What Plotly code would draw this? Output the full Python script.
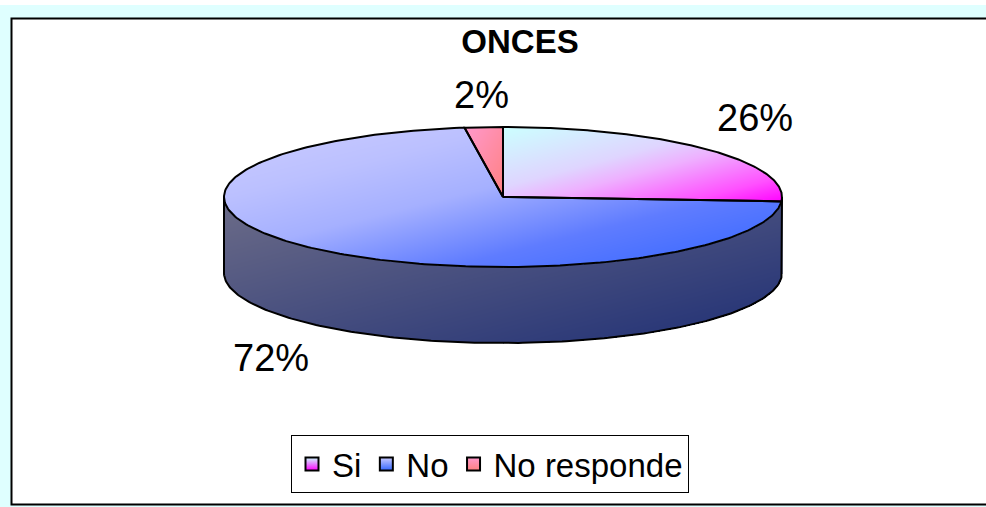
import numpy as np
import plotly.graph_objects as go

# --- data ---
title = "ONCES"
categories = ["Si", "No", "No responde"]
values = [26.0, 71.8, 2.2]
value_labels = ["26%", "72%", "2%"]

# --- drawing geometry of the tilted disc (pixel space of the page) ---
W, H = 986, 507
CX, CY, RX, RY, DEPTH = 503, 197, 279, 70, 76
label_pos = [(755, 118), (271, 358), (481, 95)]
scales = [
    [[0, "#CCFFFF"], [.40, "#DFD5FF"], [.55, "#EEB0FF"], [.83, "#FF50FF"], [1, "#FF00FF"]],
    [[0, "#CCCCFF"], [.25, "#BBC0FF"], [.45, "#A5B0FF"], [.70, "#5F7CFF"], [.85, "#4870FF"], [1, "#3366FF"]],
    [[0, "#FF99CC"], [1, "#FF8080"]],
]
side_scale = [[0, "#6C6C88"], [1, "#1F2F75"]]
swatches = [("#CCFFFF", "#FF00FF"), ("#CCCCFF", "#3366FF"), ("#FF99CC", "#FF8080")]


def rim(a):
    return CX + RX * np.sin(a), CY - RY * np.cos(a)


xs = np.arange(CX - RX, CX + RX + 1.0)
ys = np.arange(CY - RY, CY + DEPTH + RY + 1.0)
gx, gy = np.meshgrid(xs, ys)
ang = np.mod(np.arctan2((gx - CX) / RX, -(gy - CY) / RY), 2 * np.pi)
inside = ((gx - CX) / RX) ** 2 + ((gy - CY) / RY) ** 2 <= 1

fig = go.Figure()


def gradient_layer(mask, x0, x1, y0, y1, scale):
    t = ((gx - x0) / (x1 - x0) + (gy - y0) / (y1 - y0)) / 2
    z = np.where(mask, np.clip(t, 0, 1), np.nan)
    fig.add_trace(go.Heatmap(x=xs, y=ys, z=z, colorscale=scale, zmin=0, zmax=1,
                             showscale=False, hoverinfo="skip", showlegend=False))


# side wall
u = (gx - CX) / RX
wall = (np.abs(u) <= 1) & (gy >= CY) & (gy <= CY + DEPTH + RY * np.sqrt(np.clip(1 - u ** 2, 0, 1)))
gradient_layer(wall, CX - RX, CX + RX, CY, CY + DEPTH + RY, side_scale)
arc = np.linspace(np.pi / 2, 3 * np.pi / 2, 200)
ax_, ay_ = rim(arc)
ay_ = ay_ + DEPTH
fig.add_trace(go.Scatter(x=np.r_[CX + RX, ax_, CX - RX], y=np.r_[CY, ay_, CY], mode="lines",
                         line=dict(color="black", width=2), hoverinfo="skip", showlegend=False))

# top surface: one wedge per category, from the values
edges = np.r_[0, np.cumsum(values)] / np.sum(values) * 2 * np.pi
outlines = []
for i in range(len(values)):
    a = np.linspace(edges[i], edges[i + 1], 240)
    px, py = rim(a)
    bx = np.r_[px, CX]
    by = np.r_[py, CY]
    mask = inside & (ang >= edges[i]) & (ang <= edges[i + 1])
    gradient_layer(mask, bx.min(), bx.max(), by.min(), by.max(), scales[i])
    outlines.append((np.r_[CX, px, CX], np.r_[CY, py, CY]))
for ox, oy in outlines:
    fig.add_trace(go.Scatter(x=ox, y=oy, mode="lines", line=dict(color="black", width=2),
                             hoverinfo="skip", showlegend=False))

# legend entries
for name, (c0, c1) in zip(categories, swatches):
    fig.add_trace(go.Scatter(x=[None], y=[None], mode="markers", name=name,
                             marker=dict(symbol="square", size=13, color=c0,
                                         gradient=dict(type="vertical", color=c1),
                                         line=dict(color="black", width=2))))

for txt, (lx, ly) in zip(value_labels, label_pos):
    fig.add_annotation(x=lx, y=ly, text=txt, showarrow=False, xanchor="center", yanchor="middle",
                       font=dict(family="Liberation Sans", size=38, color="black"))

fig.update_layout(
    width=W, height=H, margin=dict(l=0, r=0, t=0, b=0),
    paper_bgcolor="#DFFFFF", plot_bgcolor="rgba(0,0,0,0)",
    xaxis=dict(range=[0, W], visible=False, fixedrange=True),
    yaxis=dict(range=[H, 0], visible=False, fixedrange=True),
    title=dict(text=f"<b>{title}</b>", x=520 / W, y=1 - 41 / H, xanchor="center", yanchor="middle",
               xref="paper", yref="paper",
               font=dict(family="Liberation Sans", size=33, color="black")),
    legend=dict(orientation="h", x=291 / W, y=1 - 435 / H, xanchor="left", yanchor="top",
                bgcolor="white", bordercolor="black", borderwidth=1,
                font=dict(family="Liberation Sans", size=33, color="black")),
    shapes=[
        dict(type="rect", layer="below", x0=0, x1=W, y0=0, y1=5, fillcolor="white", line_width=0),
        dict(type="rect", layer="below", x0=11.5, x1=W + 5, y0=18.5, y1=504.5, fillcolor="white",
             line=dict(color="black", width=2)),
    ],
)
fig.write_html("out.html", config=dict(displayModeBar=False),
               post_script="document.body.style.margin='0';")
